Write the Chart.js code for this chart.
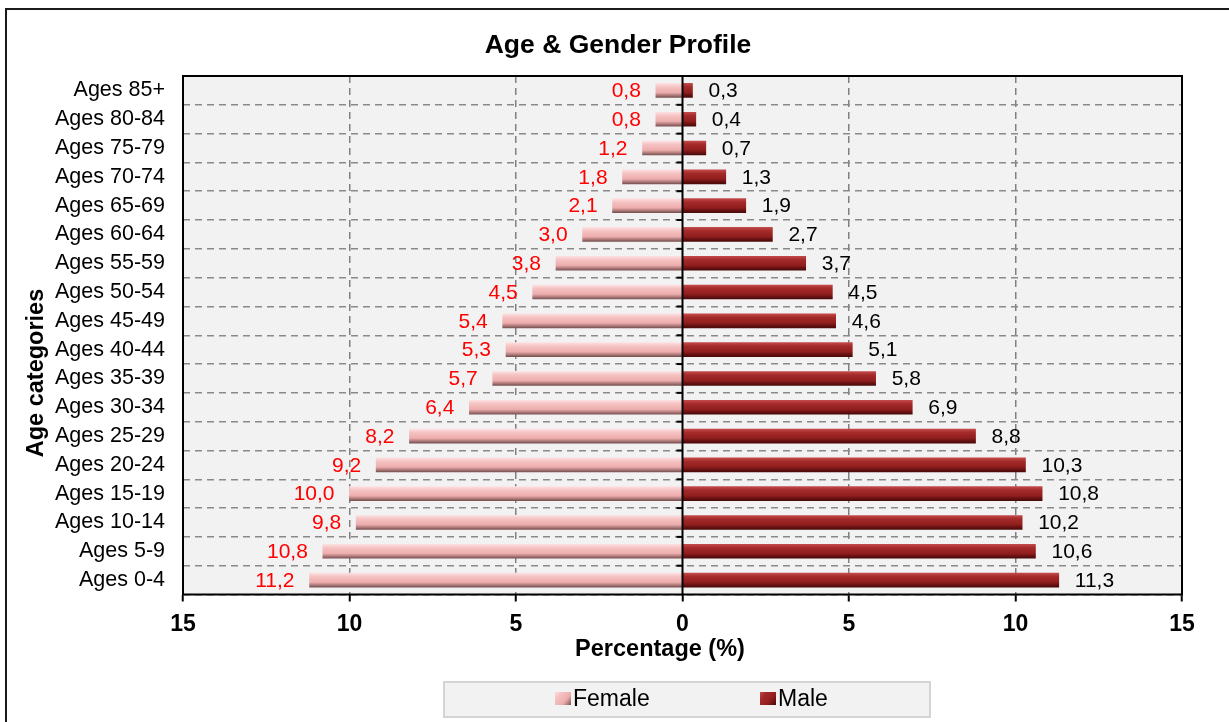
<!DOCTYPE html>
<html><head><meta charset="utf-8">
<script src="https://cdn.jsdelivr.net/npm/chart.js@4/dist/chart.umd.min.js"></script>
<style>
html,body{margin:0;padding:0;background:#fff;overflow:hidden;}
#wrap{position:relative;width:1229px;height:722px;overflow:hidden;}
#frame{position:absolute;left:5px;top:8px;width:1300px;height:800px;border:2px solid #1a1a1a;box-sizing:border-box;pointer-events:none;}
canvas{position:absolute;left:0;top:0;}
</style></head><body>
<div id="wrap"><canvas id="c" width="1229" height="722"></canvas><div id="frame"></div></div>
<script>
// ---- data (top row to bottom row as shown) ----
const categories = ['Ages 85+','Ages 80-84','Ages 75-79','Ages 70-74','Ages 65-69','Ages 60-64','Ages 55-59','Ages 50-54','Ages 45-49','Ages 40-44','Ages 35-39','Ages 30-34','Ages 25-29','Ages 20-24','Ages 15-19','Ages 10-14','Ages 5-9','Ages 0-4'];
const femaleValues = [0.8,0.8,1.2,1.8,2.1,3.0,3.8,4.5,5.4,5.3,5.7,6.4,8.2,9.2,10.0,9.8,10.8,11.2];
const maleValues   = [0.3,0.4,0.7,1.3,1.9,2.7,3.7,4.5,4.6,5.1,5.8,6.9,8.8,10.3,10.8,10.2,10.6,11.3];
const seriesNames = ['Female','Male'];
const xTickValues = [-15,-10,-5,0,5,10,15];
const chartTitle = 'Age & Gender Profile';
const xTitle = 'Percentage (%)';
const yTitle = 'Age categories';

const FONT = "'Liberation Sans', Arial, Helvetica, sans-serif";
const femaleStops = [[0,'#fde0e0'],[0.25,'#f5c2c2'],[0.65,'#eeadad'],[0.82,'#b88282'],[1,'#7a5252']];
const maleStops   = [[0,'#c24a4a'],[0.25,'#a52a2a'],[0.65,'#901e1e'],[0.82,'#6d1212'],[1,'#480a0a']];

function barGradient(stops){
  return (c) => {
    const chart = c.chart;
    if (c.type !== 'data' || !chart.chartArea || !chart.scales.y) return stops[2][1];
    const yc = chart.scales.y.getPixelForValue(c.dataIndex);
    const g = chart.ctx.createLinearGradient(0, yc - 7, 0, yc + 7);
    stops.forEach(([o, col]) => g.addColorStop(o, col));
    return g;
  };
}
const fmt = v => v.toFixed(1).replace('.', ',');

const decor = {
  id: 'decor',
  beforeDraw(chart){
    const {ctx, chartArea: a} = chart;
    ctx.save();
    ctx.fillStyle = '#f2f2f2';
    ctx.fillRect(a.left, a.top, a.right - a.left, a.bottom - a.top);
    ctx.restore();
  },
  afterDatasetsDraw(chart){
    const {ctx, chartArea: a, scales: {x, y}} = chart;
    ctx.save();
    // data labels
    ctx.font = '21px ' + FONT;
    ctx.textBaseline = 'middle';
    chart.getDatasetMeta(0).data.forEach((bar, i) => {
      ctx.fillStyle = '#ff0000'; ctx.textAlign = 'right';
      ctx.fillText(fmt(femaleValues[i]), bar.x - 15, bar.y + 1);
    });
    chart.getDatasetMeta(1).data.forEach((bar, i) => {
      ctx.fillStyle = '#000000'; ctx.textAlign = 'left';
      ctx.fillText(fmt(maleValues[i]), bar.x + 16, bar.y + 1);
    });
    // zero axis and its tick marks
    const x0 = x.getPixelForValue(0);
    ctx.strokeStyle = '#000'; ctx.lineWidth = 2;
    ctx.beginPath(); ctx.moveTo(x0, a.top); ctx.lineTo(x0, a.bottom); ctx.stroke();
    for (let i = 1; i < categories.length; i++) {
      const yy = (y.getPixelForValue(i - 1) + y.getPixelForValue(i)) / 2;
      ctx.beginPath(); ctx.moveTo(x0 - 6, yy); ctx.lineTo(x0, yy); ctx.stroke();
    }
    // plot frame
    ctx.strokeRect(a.left, a.top, a.right - a.left, a.bottom - a.top);
    ctx.restore();
  },
  afterDraw(chart){
    const {ctx} = chart;
    ctx.save();
    ctx.fillStyle = '#000';
    ctx.textBaseline = 'middle';
    ctx.textAlign = 'center';
    ctx.font = 'bold 26.5px ' + FONT;
    ctx.fillText(chartTitle, 618, 46);
    ctx.font = 'bold 23.5px ' + FONT;
    ctx.fillText(xTitle, 660, 650);
    ctx.save();
    ctx.translate(37, 373); ctx.rotate(-Math.PI / 2);
    ctx.fillText(yTitle, 0, 0);
    ctx.restore();
    // legend
    const L = {x: 444, y: 682, w: 486, h: 35};
    ctx.fillStyle = '#f2f2f2';
    ctx.fillRect(L.x, L.y, L.w, L.h);
    ctx.strokeStyle = '#d4d4d4'; ctx.lineWidth = 2;
    ctx.strokeRect(L.x, L.y, L.w, L.h);
    const items = [{name: seriesNames[0], stops: femaleStops, sx: 555}, {name: seriesNames[1], stops: maleStops, sx: 760}];
    ctx.font = '23px ' + FONT;
    ctx.textAlign = 'left';
    items.forEach(it => {
      const g = ctx.createLinearGradient(it.sx, 692, it.sx + 16, 705);
      it.stops.forEach(([o, c]) => g.addColorStop(o, c));
      ctx.fillStyle = g;
      ctx.fillRect(it.sx, 692, 16, 13);
      ctx.fillStyle = '#000';
      ctx.fillText(it.name, it.sx + 18, 700);
    });
    ctx.restore();
  }
};

new Chart(document.getElementById('c'), {
  type: 'bar',
  data: {
    labels: categories,
    datasets: [
      {label: seriesNames[0], data: femaleValues.map(v => -v), backgroundColor: barGradient(femaleStops), borderWidth: 0, barThickness: 14},
      {label: seriesNames[1], data: maleValues, backgroundColor: barGradient(maleStops), borderWidth: 0, barThickness: 14}
    ]
  },
  options: {
    indexAxis: 'y',
    responsive: false,
    animation: false,
    devicePixelRatio: 1,
    layout: {padding: {top: 76, right: 47, bottom: 0, left: 0}},
    plugins: {legend: {display: false}, title: {display: false}, tooltip: {enabled: false}},
    scales: {
      x: {
        type: 'linear', stacked: true, min: -15, max: 15,
        afterBuildTicks: s => { s.ticks = xTickValues.map(v => ({value: v})); },
        afterFit: s => { s.height = 127.5; },
        ticks: {callback: v => Math.abs(v), color: '#000', padding: 9, font: {family: FONT, size: 23, weight: 'bold'}},
        grid: {
          color: c => (c.tick && (c.tick.value === 0 || Math.abs(c.tick.value) === 15)) ? 'rgba(0,0,0,0)' : '#808080',
          lineWidth: 1.5, tickColor: '#000', tickWidth: 2, tickLength: 7
        },
        border: {display: false, dash: [7, 5]}
      },
      y: {
        stacked: true,
        afterFit: s => { s.width = 183; },
        ticks: {color: '#000', padding: 18, font: {family: FONT, size: 21.5}},
        grid: {color: '#8a8a8a', lineWidth: 1.5, drawTicks: false, offset: true},
        border: {display: false, dash: [7, 5]}
      }
    }
  },
  plugins: [decor]
});
</script>
</body></html>
